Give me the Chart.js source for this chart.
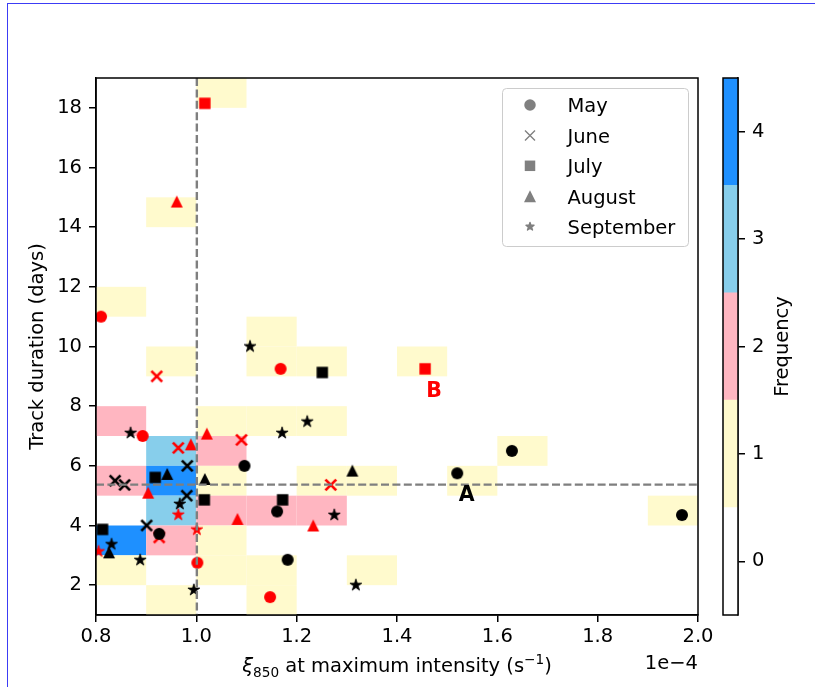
<!DOCTYPE html>
<html>
<head>
<meta charset="utf-8">
<script src="https://cdn.jsdelivr.net/npm/chart.js@4/dist/chart.umd.min.js"></script>
<style>
html,body{margin:0;padding:0;background:#fff;}
#wrap{position:relative;width:815px;height:687px;overflow:hidden;background:#fff;}
#frame{position:absolute;left:7px;top:3px;width:900px;height:900px;border-left:1px solid rgb(60,60,245);border-top:1px solid rgb(60,60,245);}
#main{position:absolute;left:0;top:0;}
#cbar{position:absolute;left:700px;top:0;}
</style>
</head>
<body>
<div id="wrap">
<canvas id="main" width="815" height="687"></canvas>
<canvas id="cbar" width="115" height="687"></canvas>
<div id="frame"></div>
</div>
<script>
// ---------------- DATA (x in units of 1e-4 s^-1, y in days) ----------------
const months = ['May', 'June', 'July', 'August', 'September'];
const monthShapes = ['circle', 'x', 'square', 'triangle', 'star'];

// [x, duration, isRed]
const mayPoints = [
  [0.810, 11.0, 1], [1.168, 9.25, 1], [0.893, 7.0, 1], [1.002, 2.75, 1], [1.147, 1.6, 1],
  [1.096, 6.0, 0], [1.520, 5.75, 0], [1.629, 6.5, 0], [1.968, 4.35, 0], [1.161, 4.47, 0],
  [0.926, 3.72, 0], [1.182, 2.85, 0]
];
const junePoints = [
  [0.921, 9.0, 1], [0.964, 6.6, 1], [1.090, 6.87, 1], [1.268, 5.36, 1], [0.926, 3.6, 1],
  [0.982, 6.0, 0], [0.838, 5.5, 0], [0.857, 5.36, 0], [0.981, 5.0, 0], [0.901, 4.0, 0]
];
const julyPoints = [
  [1.017, 18.15, 1], [1.456, 9.25, 1],
  [1.251, 9.13, 0], [0.918, 5.61, 0], [1.016, 4.86, 0], [1.172, 4.86, 0], [0.813, 3.87, 0]
];
const augustPoints = [
  [0.961, 14.86, 1], [1.021, 7.08, 1], [0.989, 6.72, 1], [0.904, 5.1, 1], [1.082, 4.22, 1], [1.233, 4.0, 1],
  [0.942, 5.73, 0], [1.017, 5.56, 0], [1.311, 5.84, 0], [0.826, 3.1, 0]
];
const septemberPoints = [
  [0.964, 4.36, 1], [1.001, 3.86, 1], [0.805, 3.13, 1],
  [1.107, 10.0, 0], [0.869, 7.1, 0], [1.171, 7.1, 0], [1.221, 7.48, 0], [0.967, 4.72, 0],
  [1.275, 4.35, 0], [0.831, 3.37, 0], [0.888, 2.84, 0], [0.995, 1.84, 0], [1.318, 2.0, 0]
];
const monthPoints = [mayPoints, junePoints, julyPoints, augustPoints, septemberPoints];

// 2D histogram cells (lower-left corner of each 0.1 x 1 bin, and count)
const cellX0 =    [1.0, 0.9, 0.8, 1.1, 0.9, 1.1, 1.2, 1.4, 0.8, 1.0, 1.1, 1.2, 0.9, 1.0, 1.6, 0.8, 0.9, 1.0, 1.2, 1.3, 1.5, 0.9, 1.0, 1.1, 1.2, 1.9, 0.8, 0.9, 1.0, 0.8, 1.0, 1.1, 1.3, 0.9, 1.1];
const cellY0 =    [18,  14,  11,  10,  9,   9,   9,   9,   7,   7,   7,   7,   6,   6,   6,   5,   5,   5,   5,   5,   5,   4,   4,   4,   4,   4,   3,   3,   3,   2,   2,   2,   2,   1,   1];
const cellCount = [1,   1,   1,   1,   1,   1,   1,   1,   2,   1,   1,   1,   3,   2,   1,   2,   4,   1,   1,   1,   1,   3,   2,   2,   2,   1,   4,   2,   1,   1,   1,   1,   1,   1,   1];
const binWidthX = 0.1, binHeightY = 1;

const freqLevels = [0, 1, 2, 3, 4];
const freqColors = ['#ffffff', '#fffacd', '#ffb6c1', '#87ceeb', '#1e90ff'];

const xTicks = [0.8, 1.0, 1.2, 1.4, 1.6, 1.8, 2.0];
const yTicks = [2, 4, 6, 8, 10, 12, 14, 16, 18];
const xRange = [0.8, 2.0];
const yRange = [1, 19];

const refLineX = 1.0;     // vertical dashed line
const refLineY = 5.37;    // horizontal dashed line

const annLabels = ['A', 'B'];
const annX = [1.539, 1.474];
const annY = [4.99, 8.49];
const annColors = ['#000000', '#ff0000'];

// ---------------- STYLE ----------------
const FONT = 'DejaVu Sans';
const FS = 19.5;

function drawMarker(ctx, shape, x, y, color, size, lw) {
  const h = size / 2;
  ctx.save();
  ctx.fillStyle = color; ctx.strokeStyle = color;
  ctx.beginPath();
  if (shape === 'circle') { ctx.arc(x, y, h, 0, Math.PI * 2); ctx.fill(); }
  else if (shape === 'square') { ctx.rect(x - h, y - h, size, size); ctx.fill(); }
  else if (shape === 'triangle') { ctx.moveTo(x, y - h); ctx.lineTo(x + h, y + h); ctx.lineTo(x - h, y + h); ctx.closePath(); ctx.fill(); }
  else if (shape === 'x') { ctx.lineWidth = lw; ctx.lineCap = 'butt'; ctx.moveTo(x - h, y - h); ctx.lineTo(x + h, y + h); ctx.moveTo(x - h, y + h); ctx.lineTo(x + h, y - h); ctx.stroke(); }
  else if (shape === 'star') {
    const R = h, r = h * 0.381966;
    for (let i = 0; i < 10; i++) {
      const a = -Math.PI / 2 + i * Math.PI / 5;
      const rr = i % 2 ? r : R;
      const px = x + rr * Math.cos(a), py = y + rr * Math.sin(a);
      if (i === 0) ctx.moveTo(px, py); else ctx.lineTo(px, py);
    }
    ctx.closePath(); ctx.fill();
    if (lw) { ctx.lineWidth = lw; ctx.lineJoin = 'round'; ctx.stroke(); }
  }
  ctx.restore();
}
const plotSizes = { circle: 12, x: 10.8, square: 11.4, triangle: 12, star: 12.5 };
const legendSizes = { circle: 11.5, x: 10, square: 10.5, triangle: 12, star: 8.5 };

function makeMarkerImage(shape, color) {
  const c = document.createElement('canvas');
  c.width = 26; c.height = 26;
  drawMarker(c.getContext('2d'), shape, 13, 13, color, plotSizes[shape], shape === 'x' ? 2.7 : (shape === 'star' ? 0.8 : 0));
  return c;
}
const markerImgs = monthShapes.map(s => ({ red: makeMarkerImage(s, '#ff0000'), black: makeMarkerImage(s, '#000000') }));

const datasets = monthPoints.map((pts, m) => ({
  label: months[m],
  data: pts.map(p => ({ x: p[0], y: p[1], red: p[2] })),
  pointStyle: (c) => (c.raw && c.raw.red ? markerImgs[m].red : markerImgs[m].black),
  pointRadius: 6,
  pointHoverRadius: 6,
  showLine: false
}));

// ---------------- PLUGINS ----------------
const histPlugin = {
  id: 'hist',
  beforeDatasetsDraw(chart) {
    const { ctx, chartArea: a, scales: { x, y } } = chart;
    ctx.save();
    ctx.beginPath(); ctx.rect(a.left, a.top, a.right - a.left, a.bottom - a.top); ctx.clip();
    for (let i = 0; i < cellX0.length; i++) {
      const x0 = x.getPixelForValue(cellX0[i]), x1 = x.getPixelForValue(cellX0[i] + binWidthX);
      const y0 = y.getPixelForValue(cellY0[i]), y1 = y.getPixelForValue(cellY0[i] + binHeightY);
      ctx.fillStyle = freqColors[cellCount[i]];
      ctx.fillRect(x0, y1, x1 - x0, y0 - y1);
    }
    ctx.restore();
  }
};

const overlayPlugin = {
  id: 'overlay',
  afterDatasetsDraw(chart) {
    const { ctx, chartArea: a, scales: { x, y } } = chart;
    ctx.save();
    // dashed reference lines
    ctx.strokeStyle = '#7f7f7f'; ctx.lineWidth = 2.4; ctx.setLineDash([8, 3.4]);
    const vx = x.getPixelForValue(refLineX) + 0.5;
    ctx.beginPath(); ctx.moveTo(vx, a.top); ctx.lineTo(vx, a.bottom); ctx.stroke();
    const hy = y.getPixelForValue(refLineY);
    ctx.beginPath(); ctx.moveTo(a.left, hy); ctx.lineTo(a.right, hy); ctx.stroke();
    ctx.setLineDash([]);
    // annotations
    ctx.font = 'bold 20.5px ' + FONT; ctx.textAlign = 'center'; ctx.textBaseline = 'middle';
    for (let i = 0; i < annLabels.length; i++) {
      ctx.fillStyle = annColors[i];
      ctx.fillText(annLabels[i], x.getPixelForValue(annX[i]), y.getPixelForValue(annY[i]));
    }
    // frame
    ctx.strokeStyle = '#000'; ctx.lineWidth = 1.5;
    ctx.strokeRect(a.left, a.top, a.right - a.left, a.bottom - a.top);
    // legend
    const bx = 502, by = 88, bw = 186, bh = 158;
    ctx.beginPath(); ctx.roundRect(bx + 0.5, by + 0.5, bw, bh, 4);
    ctx.fillStyle = 'rgba(255,255,255,0.8)'; ctx.fill();
    ctx.strokeStyle = '#cccccc'; ctx.lineWidth = 1; ctx.stroke();
    ctx.font = FS + 'px ' + FONT; ctx.textAlign = 'left'; ctx.textBaseline = 'alphabetic'; ctx.fillStyle = '#000';
    for (let m = 0; m < months.length; m++) {
      const ry = 105 + m * 30.4;
      drawMarker(ctx, monthShapes[m], 530, ry, '#808080', legendSizes[monthShapes[m]], 1.4);
      ctx.fillStyle = '#000';
      ctx.fillText(months[m], 567.5, ry + 7.3);
    }
    ctx.restore();
  },
  afterDraw(chart) {
    const { ctx, chartArea: a } = chart;
    ctx.save();
    ctx.fillStyle = '#000';
    // y label
    ctx.font = FS + 'px ' + FONT; ctx.textAlign = 'center'; ctx.textBaseline = 'middle';
    ctx.save(); ctx.translate(38, (a.top + a.bottom) / 2); ctx.rotate(-Math.PI / 2);
    ctx.fillText('Track duration (days)', 0, 0); ctx.restore();
    // offset text
    ctx.textAlign = 'right'; ctx.textBaseline = 'alphabetic';
    ctx.fillText('1e\u22124', a.right, 669);
    // x label with sub/superscripts
    const sub = FS * 0.7;
    const parts = [
      { t: '\u03be', f: 'italic ' + FS + 'px ' + FONT, dy: 0 },
      { t: '850', f: sub + 'px ' + FONT, dy: 4.5 },
      { t: ' at maximum intensity (s', f: FS + 'px ' + FONT, dy: 0 },
      { t: '\u22121', f: sub + 'px ' + FONT, dy: -8 },
      { t: ')', f: FS + 'px ' + FONT, dy: 0 }
    ];
    let total = 0;
    parts.forEach(p => { ctx.font = p.f; p.w = ctx.measureText(p.t).width; total += p.w; });
    let cx = (a.left + a.right) / 2 - total / 2;
    ctx.textAlign = 'left';
    const base = 672;
    parts.forEach(p => { ctx.font = p.f; ctx.fillText(p.t, cx, base + p.dy); cx += p.w; });
    ctx.restore();
  }
};

new Chart(document.getElementById('main'), {
  type: 'scatter',
  data: { datasets },
  options: {
    responsive: false, animation: false, devicePixelRatio: 1,
    layout: { padding: { left: 0, top: 78, right: 117, bottom: 0 } },
    plugins: { legend: { display: false }, tooltip: { enabled: false } },
    events: [],
    scales: {
      x: {
        type: 'linear', min: xRange[0], max: xRange[1],
        afterFit(s) { s.height = 72; },
        afterBuildTicks(s) { s.ticks = xTicks.map(v => ({ value: v })); },
        ticks: { color: '#000', font: { family: FONT, size: FS }, padding: 3, maxRotation: 0, autoSkip: false, callback: v => Number(v).toFixed(1) },
        grid: { drawOnChartArea: false, drawTicks: true, tickLength: 7, color: '#000', lineWidth: 1.5 },
        border: { display: true, color: '#000', width: 1.5 }
      },
      y: {
        type: 'linear', min: yRange[0], max: yRange[1],
        afterFit(s) { s.width = 96; },
        afterBuildTicks(s) { s.ticks = yTicks.map(v => ({ value: v })); },
        ticks: { color: '#000', font: { family: FONT, size: FS }, padding: 7, autoSkip: false, callback: v => String(v) },
        grid: { drawOnChartArea: false, drawTicks: true, tickLength: 7, color: '#000', lineWidth: 1.5 },
        border: { display: true, color: '#000', width: 1.5 }
      }
    }
  },
  plugins: [histPlugin, overlayPlugin]
});

// ---------------- COLORBAR ----------------
const cbPlugin = {
  id: 'cbframe',
  afterDraw(chart) {
    const { ctx, chartArea: a } = chart;
    ctx.save();
    ctx.strokeStyle = '#000'; ctx.lineWidth = 1.5;
    ctx.strokeRect(a.left, a.top, a.right - a.left, a.bottom - a.top);
    ctx.fillStyle = '#000'; ctx.font = FS + 'px ' + FONT; ctx.textAlign = 'center'; ctx.textBaseline = 'middle';
    ctx.translate(83, (a.top + a.bottom) / 2); ctx.rotate(-Math.PI / 2);
    ctx.fillText('Frequency', 0, 0);
    ctx.restore();
  }
};
new Chart(document.getElementById('cbar'), {
  type: 'bar',
  data: {
    labels: ['Frequency'],
    datasets: freqLevels.map((lv, i) => ({
      data: [[lv - 0.5, lv + 0.5]], backgroundColor: freqColors[i], borderWidth: 0,
      barPercentage: 1, categoryPercentage: 1, grouped: false
    }))
  },
  options: {
    responsive: false, animation: false, devicePixelRatio: 1, events: [],
    layout: { padding: { left: 23, top: 78, right: 0, bottom: 72 } },
    plugins: { legend: { display: false }, tooltip: { enabled: false } },
    scales: {
      x: { display: false },
      y: {
        position: 'right', min: -0.5, max: 4.5,
        afterFit(s) { s.width = 77; },
        afterBuildTicks(s) { s.ticks = freqLevels.map(v => ({ value: v })); },
        ticks: { color: '#000', font: { family: FONT, size: FS }, padding: 7, callback: v => String(v) },
        grid: { drawOnChartArea: false, drawTicks: true, tickLength: 7, color: '#000', lineWidth: 1.5 },
        border: { display: true, color: '#000', width: 1.5 }
      }
    }
  },
  plugins: [cbPlugin]
});
</script>
</body>
</html>
